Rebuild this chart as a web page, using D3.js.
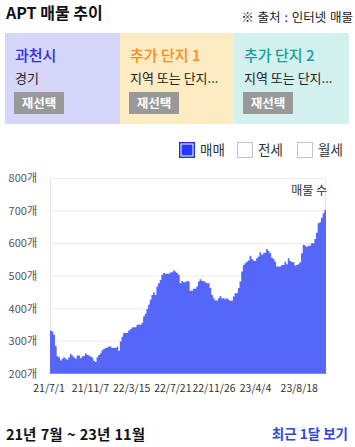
<!DOCTYPE html>
<html><head><meta charset="utf-8">
<script src="https://cdn.jsdelivr.net/npm/d3@7"></script>
<style>
html,body{margin:0;padding:0;background:#fff;}
svg{display:block;font-family:"Noto Sans CJK KR","Noto Sans",sans-serif;}
</style></head>
<body>
<svg id="c" width="355" height="447"></svg>
<script>
// ---- data ----
const startDate = "2021-07-01";
const endDate = "2023-11-06";
const listings = [
333,330,320,286,254,251,241,246,251,246,243,251,261,256,251,246,256,256,248,253,
255,263,258,256,253,250,240,236,251,258,263,272,276,279,281,284,284,279,280,279,
283,271,299,314,325,325,325,333,337,342,343,343,350,352,350,357,376,384,399,412,
427,442,450,442,468,478,488,504,509,507,507,507,511,512,517,514,509,504,
478,485,481,481,485,483,455,455,461,461,468,483,490,485,485,481,478,478,463,442,
432,425,425,432,439,432,432,429,432,427,424,424,437,447,447,463,483,514,534,539,
544,548,562,552,548,546,555,560,573,565,570,572,583,577,570,556,552,544,529,529,
529,534,534,544,536,555,546,542,542,532,534,536,542,570,596,594,589,594,592,601,
601,614,633,662,665,679,693,703
];
const tickDates = ["2021-07-01","2021-11-07","2022-03-15","2022-07-21","2022-11-26","2023-04-04","2023-08-18"];
const yTicks = [200,300,400,500,600,700,800];
const legendItems = ["매매","전세","월세"];
const boxTitles = ["과천시","추가 단지 1","추가 단지 2"];
const boxSubs = ["경기","지역 또는 단지...","지역 또는 단지..."];

// ---- drawing ----
const svg = d3.select("#c");
svg.append("rect").attr("width",355).attr("height",447).attr("fill","#fff");

svg.append("text").attr("x",6).attr("y",19).attr("font-size",16).attr("font-weight","bold")
  .attr("fill","#111").text("APT 매물 추이");
svg.append("text").attr("x",353).attr("y",22).attr("text-anchor","end").attr("font-size",12.5)
  .attr("word-spacing",1).attr("fill","#222").text("※ 출처 : 인터넷 매물");

// boxes
const boxX = [5,120,234], boxW = [115,114,115];
const boxBg = ["#d6d6fb","#fdecc2","#d2f0ee"];
const boxCol = ["#2b2bef","#ff8a16","#16a09a"];
boxTitles.forEach((t,i)=>{
  const g = svg.append("g").attr("transform",`translate(${boxX[i]},33)`);
  g.append("rect").attr("width",boxW[i]).attr("height",91).attr("fill",boxBg[i]);
  g.append("text").attr("x",10).attr("y",28).attr("font-size",15).attr("font-weight",500)
    .attr("fill",boxCol[i]).text(t);
  g.append("text").attr("x",10).attr("y",50).attr("font-size",13).attr("fill","#222").text(boxSubs[i]);
  g.append("rect").attr("x",9).attr("y",59).attr("width",50).attr("height",22).attr("fill","#999");
  g.append("text").attr("x",34).attr("y",75).attr("text-anchor","middle").attr("font-size",12.5)
    .attr("font-weight","bold").attr("fill","#fff").text("재선택");
});

// legend
const legX = [179,237,297];
legendItems.forEach((t,i)=>{
  const g = svg.append("g").attr("transform",`translate(${legX[i]},142)`);
  if(i===0){
    g.append("rect").attr("x",0.75).attr("y",0.75).attr("width",14.5).attr("height",14.5)
      .attr("fill","#fff").attr("stroke","#1e2fe6").attr("stroke-width",1.5);
    g.append("rect").attr("x",2.5).attr("y",2.5).attr("width",11).attr("height",11).attr("fill","#2438ff");
  } else {
    g.append("rect").attr("x",0.5).attr("y",0.5).attr("width",15).attr("height",15)
      .attr("fill","#fff").attr("stroke","#c3c3cc").attr("stroke-width",1);
  }
  g.append("text").attr("x",21).attr("y",13).attr("font-size",13.5).attr("fill","#333").text(t);
});

// chart
const pLeft = 50, pRight = 326, pTop = 178.3, pBottom = 373.8;
const parse = d3.timeParse("%Y-%m-%d");
const x = d3.scaleTime().domain([parse(startDate), parse(endDate)]).range([pLeft, pRight]);
const y = d3.scaleLinear().domain([200,800]).range([pBottom, pTop]);
const t0 = parse(startDate).getTime(), t1 = parse(endDate).getTime();
const step = (t1 - t0) / listings.length;
const pts = listings.map((v,i)=>({d:new Date(t0 + i*step), v}));
pts.push({d:new Date(t1), v:listings[listings.length-1]});

// grid
svg.append("g").selectAll("line").data(yTicks.slice(1)).join("line")
  .attr("x1",pLeft).attr("x2",pRight).attr("y1",d=>y(d)).attr("y2",d=>y(d))
  .attr("stroke","#ebebeb").attr("stroke-width",1);
svg.append("line").attr("x1",pLeft+0.5).attr("x2",pLeft+0.5).attr("y1",pTop).attr("y2",pBottom)
  .attr("stroke","#e3e3e3");
svg.append("line").attr("x1",pRight-0.5).attr("x2",pRight-0.5).attr("y1",pTop).attr("y2",pBottom)
  .attr("stroke","#e8e8e8");

const area = d3.area().x(d=>x(d.d)).y0(pBottom).y1(d=>y(d.v)).curve(d3.curveStepAfter);
svg.append("path").datum(pts).attr("d",area).attr("fill","#5566f8");

// y axis labels
const yAxis = d3.axisLeft(y).tickValues(yTicks).tickSize(0).tickPadding(0).tickFormat(d=>d+"개");
const yg = svg.append("g").attr("transform","translate(37,0)").call(yAxis);
yg.select(".domain").remove();
yg.selectAll("text").attr("font-size",11).attr("fill","#555").attr("font-family","Noto Sans CJK KR").attr("dy","0.32em");

// x axis labels
const fmt = d=> (d.getFullYear()%100)+"/"+(d.getMonth()+1)+"/"+d.getDate();
const xAxis = d3.axisBottom(x).tickValues(tickDates.map(parse)).tickSize(0).tickPadding(0).tickFormat(fmt);
const xg = svg.append("g").attr("transform","translate(-1.5,385)").call(xAxis);
xg.select(".domain").remove();
xg.selectAll("text").attr("font-size",10.5).attr("fill","#333").attr("font-family","Noto Sans CJK KR");

svg.append("text").attr("x",327).attr("y",195).attr("text-anchor","end").attr("font-size",12)
  .attr("fill","#333").text("매물 수");

// bottom
svg.append("text").attr("x",6).attr("y",440).attr("font-size",14.5).attr("font-weight","bold")
  .attr("word-spacing",1).attr("fill","#111").text("21년 7월 ~ 23년 11월");
svg.append("text").attr("x",348).attr("y",439).attr("text-anchor","end").attr("font-size",13.5)
  .attr("font-weight","bold").attr("fill","#2f45e8").text("최근 1달 보기");
</script>
</body></html>
